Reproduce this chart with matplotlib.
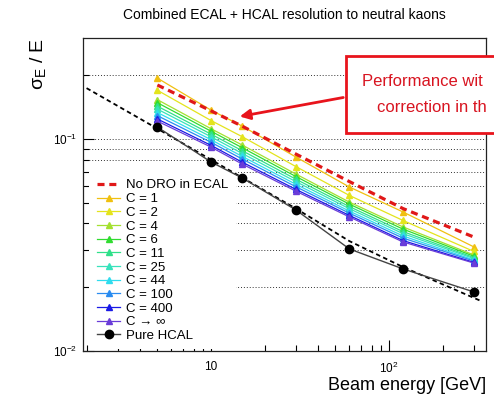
import matplotlib
matplotlib.use("Agg")
import matplotlib.pyplot as plt
from matplotlib.ticker import FixedLocator, FixedFormatter, NullFormatter
from matplotlib.patches import Rectangle, FancyArrowPatch

plt.rcParams['font.family'] = ['Liberation Sans', 'DejaVu Sans']
plt.rcParams['mathtext.fontset'] = 'custom'
plt.rcParams['mathtext.rm'] = 'Liberation Sans'
plt.rcParams['mathtext.it'] = 'Liberation Sans'
plt.rcParams['mathtext.bf'] = 'Liberation Sans:bold'

# beam energies [GeV]
energy = [5, 10, 15, 30, 60, 120, 300]

# combined resolution for different C values
res_c1 = [0.194, 0.137, 0.1151, 0.0823, 0.0594, 0.0453, 0.0310]
res_c2 = [0.170, 0.1224, 0.1026, 0.0742, 0.0542, 0.0413, 0.0295]
res_c4 = [0.1535, 0.112, 0.0937, 0.0684, 0.0504, 0.0385, 0.0284]
res_c6 = [0.1485, 0.109, 0.0910, 0.0666, 0.0493, 0.0376, 0.0280]
res_c11 = [0.143, 0.1056, 0.0881, 0.0647, 0.0480, 0.0366, 0.0276]
res_c25 = [0.1385, 0.1026, 0.0855, 0.0630, 0.0469, 0.0358, 0.0273]
res_c44 = [0.1335, 0.0994, 0.0828, 0.0612, 0.0457, 0.0349, 0.0269]
res_c100 = [0.129, 0.0966, 0.0805, 0.0596, 0.0447, 0.0341, 0.0266]
res_c400 = [0.1244, 0.0935, 0.0778, 0.0579, 0.0436, 0.0332, 0.0262]
res_cinf = [0.1216, 0.0917, 0.0762, 0.0568, 0.0429, 0.0327, 0.0260]
c_labels = ["C = 1", "C = 2", "C = 4", "C = 6", "C = 11", "C = 25",
            "C = 44", "C = 100", "C = 400", "C \u2192 \u221e"]

# no DRO correction in the ECAL
res_nodro = [0.180, 0.136, 0.115, 0.085, 0.063, 0.047, 0.0345]

# pure HCAL points + fit curve
res_hcal = [0.114, 0.078, 0.0655, 0.0463, 0.0303, 0.0244, 0.019]
fit_energy = [2.0, 5, 10, 30, 60, 120, 330]
fit_res = [0.174, 0.112, 0.080, 0.047, 0.033, 0.0249, 0.0172]

c_series = [res_c1, res_c2, res_c4, res_c6, res_c11, res_c25,
            res_c44, res_c100, res_c400, res_cinf]
c_colors = ['#f0c010', '#e4e41c', '#a4e030', '#30dc30', '#30e08a',
            '#38e2bc', '#30dcee', '#2a8cf0', '#1a1ae6', '#6a3cd8']

fig = plt.figure(figsize=(4.94, 3.96), dpi=100)
ax = fig.add_axes([83/494, 1-351/396, 403/494, 313/396])

ax.set_xscale('log')
ax.set_yscale('log')
ax.set_xlim(1.91, 351)
ax.set_ylim(0.01, 0.30)

hnodro, = ax.plot(energy, res_nodro, color='#e01818', lw=2.3,
                  dashes=(2.2, 1.5), label='No DRO in ECAL', zorder=4)
handles = [hnodro]
for vals, lab, col in zip(c_series, c_labels, c_colors):
    h, = ax.plot(energy, vals, color=col, lw=0.9, marker='^', ms=5,
                 mfc=col, mec=col, label=lab, zorder=3)
    handles.append(h)
ax.plot(fit_energy, fit_res, color='k', lw=1.3, dashes=(2.5, 1.8), zorder=3)
hh, = ax.plot(energy, res_hcal, color='#444444', lw=1.0, marker='o', ms=6,
              mfc='k', mec='k', label='Pure HCAL', zorder=3)
handles.append(hh)

# ticks, ROOT style
ax.xaxis.set_major_locator(FixedLocator([10, 100]))
ax.xaxis.set_major_formatter(FixedFormatter(['10', r'$10^{2}$']))
ax.xaxis.set_minor_locator(FixedLocator([2, 3, 4, 5, 6, 7, 8, 9, 20, 30, 40, 50,
                                         60, 70, 80, 90, 200, 300]))
ax.xaxis.set_minor_formatter(NullFormatter())
ax.yaxis.set_major_locator(FixedLocator([0.01, 0.1]))
ax.yaxis.set_major_formatter(FixedFormatter([r'$10^{-2}$', r'$10^{-1}$']))
ax.yaxis.set_minor_locator(FixedLocator([0.02, 0.03, 0.04, 0.05, 0.06, 0.07,
                                         0.08, 0.09, 0.2]))
ax.yaxis.set_minor_formatter(NullFormatter())
ax.tick_params(which='both', direction='in', labelsize=8.5)
ax.tick_params(axis='x', pad=7)
ax.tick_params(axis='y', pad=4)
ax.tick_params(which='major', length=8, width=0.8)
ax.tick_params(which='minor', length=4, width=0.8)
ax.yaxis.grid(True, which='both', linestyle=(0, (1, 2)), color='#333333', lw=0.7)
ax.set_axisbelow(True)
for s in ax.spines.values():
    s.set_linewidth(0.9)
    s.set_color('#222222')

ax.set_xlabel('Beam energy [GeV]', fontsize=13, ha='right', x=1.0, labelpad=1)
ax.set_ylabel(r'$\sigma_{E}$ / E', fontsize=14, ha='right', y=1.0, labelpad=4)
ax.set_title('Combined ECAL + HCAL resolution to neutral kaons', fontsize=10,
             pad=14)

leg = ax.legend(handles=handles, loc='upper left', bbox_to_anchor=(0.016, 0.572),
                fontsize=9.5, frameon=True, fancybox=False, framealpha=1,
                facecolor='white', edgecolor='none', borderaxespad=0,
                borderpad=0.55, labelspacing=0.11, handlelength=1.8,
                handletextpad=0.45)
leg.set_zorder(2.5)

# slide annotation box (runs off the right edge, only part is visible)
box = Rectangle((346/494, 1-133/396), 0.4, 77/396, transform=fig.transFigure,
                facecolor='white', edgecolor='#e8141c', lw=2, zorder=10)
fig.add_artist(box)
fig.text(362/494, 1-82/396, 'Performance wit', color='#d81420',
         fontsize=12, ha='left', va='center', zorder=11)
fig.text(377/494, 1-107/396, 'correction in th', color='#d81420',
         fontsize=12, ha='left', va='center', zorder=11)
fig.add_artist(FancyArrowPatch(
    (346/494, 1-97/396), (237/494, 1-117/396), transform=fig.transFigure,
    arrowstyle='-|>', mutation_scale=15, color='#e8141c', lw=2, zorder=10))

fig.savefig('out.png', dpi=100)
